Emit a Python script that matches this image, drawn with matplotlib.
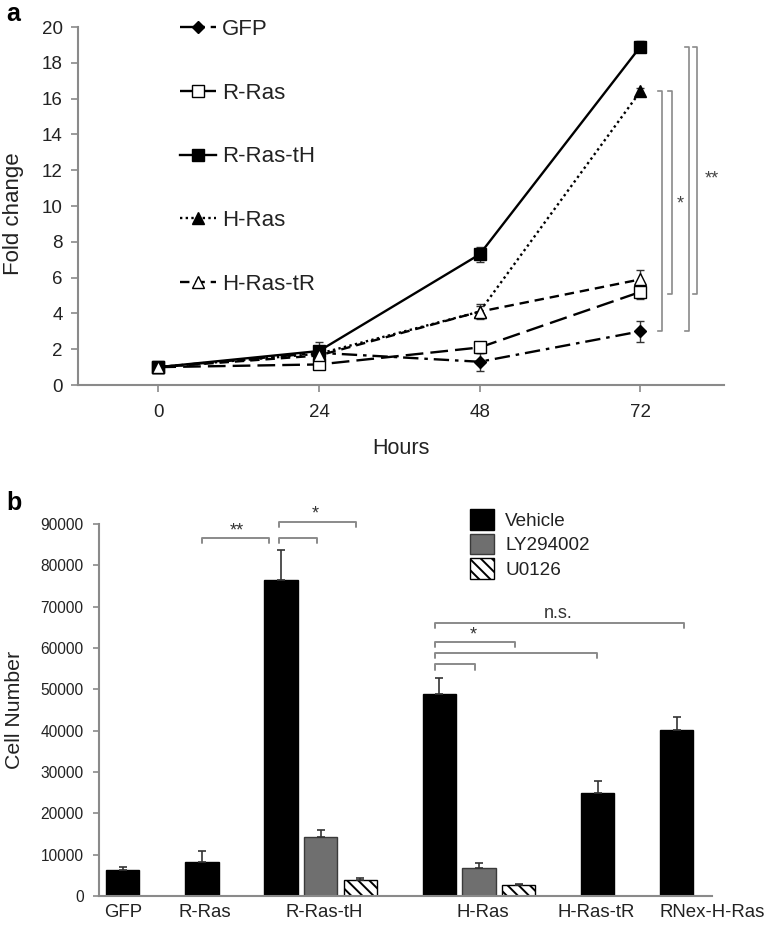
import matplotlib.pyplot as plt
from matplotlib.lines import Line2D
from matplotlib.patches import Patch

plt.rcParams['font.family'] = ['Liberation Sans', 'DejaVu Sans']
plt.rcParams['hatch.linewidth'] = 1.4

# panel a: fold change over time
hours = [0, 24, 48, 72]
series_names = ['GFP', 'R-Ras', 'R-Ras-tH', 'H-Ras', 'H-Ras-tR']
gfp = [1.0, 1.8, 1.3, 3.0]
rras = [1.0, 1.15, 2.1, 5.2]
rras_th = [1.0, 1.9, 7.3, 18.9]
hras = [1.0, 1.75, 4.1, 16.4]
hras_tr = [1.0, 1.65, 4.1, 5.9]
gfp_err = [0.0, 0.3, 0.5, 0.6]
rras_err = [0.0, 0.2, 0.3, 0.4]
rras_th_err = [0.0, 0.5, 0.4, 0.3]
hras_err = [0.0, 0.3, 0.4, 0.2]
hras_tr_err = [0.0, 0.3, 0.3, 0.5]

# panel b: cell numbers
groups = ['GFP', 'R-Ras', 'R-Ras-tH', 'H-Ras', 'H-Ras-tR', 'RNex-H-Ras']
treatments = ['Vehicle', 'LY294002', 'U0126']
vehicle = [6200, 8300, 76500, 48800, 24900, 40200]
vehicle_err = [800, 2500, 7200, 3900, 2900, 3100]
ly294002 = [None, None, 14300, 6800, None, None]
ly294002_err = [None, None, 1600, 1200, None, None]
u0126 = [None, None, 3900, 2700, None, None]
u0126_err = [None, None, 400, 300, None, None]

AX_GRAY = '#8a8a8a'
TXT = '#222222'

fig = plt.figure(figsize=(7.79, 9.26), dpi=100)

# ---------------- panel a ----------------
ax = fig.add_axes([0.1001, 0.5842, 0.8293, 0.3866])
styles = [
    dict(marker='D', ms=6, mfc='black', dashes=(6.5, 2.5, 1.5, 2.5)),
    dict(marker='s', ms=8, mfc='white', dashes=(7.5, 3)),
    dict(marker='s', ms=8, mfc='black', ls='-'),
    dict(marker='^', ms=8, mfc='black', dashes=(1, 1.4)),
    dict(marker='^', ms=8, mfc='white', dashes=(4, 2.5)),
]
values = [gfp, rras, rras_th, hras, hras_tr]
errs = [gfp_err, rras_err, rras_th_err, hras_err, hras_tr_err]
handles = []
for name, vals, err, st in zip(series_names, values, errs, styles):
    ax.errorbar(hours, vals, yerr=err, color='black', ecolor='#333333',
                elinewidth=1, capsize=3, capthick=1, lw=1.7, mec='black',
                mew=1, label=name, **st)
    handles.append(Line2D([], [], color='black', lw=1.7, mec='black', mew=1, **st))

ax.legend(handles, series_names, loc='center left', bbox_to_anchor=(0.158, 0.637),
          frameon=False, fontsize=16, handlelength=1.6, handletextpad=0.3,
          labelspacing=1.92, borderpad=0, borderaxespad=0, labelcolor=TXT)

ax.set_xlim(-12, 84.5)
ax.set_ylim(0, 20)
ax.set_xticks(hours)
ax.set_yticks(range(0, 21, 2))
ax.set_xlabel('Hours', fontsize=15.5, labelpad=12, color=TXT)
ax.set_ylabel('Fold change', fontsize=16, color=TXT)
ax.yaxis.set_label_coords(-0.083, 0.48)
for s in ['top', 'right']:
    ax.spines[s].set_visible(False)
for s in ['left', 'bottom']:
    ax.spines[s].set_color(AX_GRAY)
    ax.spines[s].set_linewidth(1.5)
ax.tick_params(axis='both', direction='out', length=5, width=1.2, color=AX_GRAY,
               labelsize=13.5, pad=6, labelcolor=TXT)
ax.tick_params(axis='x', pad=9)

# significance brackets (panel a)
def vbracket(ax, x, y0, y1, arm=0.6):
    ax.plot([x - arm, x, x, x - arm], [y1, y1, y0, y0], color=AX_GRAY, lw=1.2,
            clip_on=False)

vbracket(ax, 75.2, gfp[3], hras[3])
vbracket(ax, 76.7, rras[3] - 0.1, hras[3])
vbracket(ax, 79.2, gfp[3], rras_th[3])
vbracket(ax, 80.5, rras[3] - 0.1, rras_th[3])
ax.text(78.0, 10.1, '*', ha='center', va='center', fontsize=13, color='#444444')
ax.text(82.7, 11.5, '**', ha='center', va='center', fontsize=13, color='#444444')

fig.text(0.008, 0.985, 'a', fontsize=18, fontweight='bold', va='center')

# ---------------- panel b ----------------
bx = fig.add_axes([0.1271, 0.0324, 0.787, 0.4017])
group_pos = [0, 2, 4, 8, 12, 14]
label_pos = [0.02, 2.07, 5.1, 9.1, 11.95, 14.89]
width = 0.84
bar_styles = [
    dict(facecolor='black', edgecolor='black'),
    dict(facecolor='#6f6f6f', edgecolor='#3a3a3a'),
    dict(facecolor='white', edgecolor='black', hatch='\\\\\\'),
]
for k, (vals, err, st) in enumerate(zip([vehicle, ly294002, u0126],
                                        [vehicle_err, ly294002_err, u0126_err],
                                        bar_styles)):
    xs = [p + k for p, v in zip(group_pos, vals) if v is not None]
    ys = [v for v in vals if v is not None]
    es = [e for e in err if e is not None]
    bx.bar(xs, ys, width=width, linewidth=1, zorder=2, **st)
    bx.errorbar(xs, ys, yerr=[[0] * len(es), es], fmt='none', ecolor='#333333',
                elinewidth=1.2, capsize=3, capthick=1.2, zorder=3)

bx.set_xlim(-0.6, 14.55)
bx.set_ylim(0, 90000)
bx.set_yticks(range(0, 90001, 10000))
bx.set_xticks(label_pos)
bx.set_xticklabels(groups, fontsize=13.4)
bx.set_ylabel('Cell Number', fontsize=15.3, color=TXT)
bx.yaxis.set_label_coords(-0.122, 0.5)
for s in ['top', 'right']:
    bx.spines[s].set_visible(False)
for s in ['left', 'bottom']:
    bx.spines[s].set_color(AX_GRAY)
    bx.spines[s].set_linewidth(1.5)
bx.tick_params(axis='y', direction='out', length=4, width=1.2, color=AX_GRAY,
               labelsize=11.2, pad=7, labelcolor=TXT)
bx.tick_params(axis='x', length=0, pad=6, labelcolor=TXT)

leg_handles = [Patch(label=t, linewidth=1, **st) for t, st in zip(treatments, bar_styles)]
bx.legend(handles=leg_handles, loc='upper left', bbox_to_anchor=(0.605, 1.04),
          frameon=False, fontsize=13.6, handlelength=1.27, handleheight=1.32,
          handletextpad=0.6, labelspacing=0.19, borderpad=0, borderaxespad=0,
          labelcolor=TXT)

def hbracket(ax, x0, x1, y, drop=1300):
    ax.plot([x0, x0, x1, x1], [y - drop, y, y, y - drop], color=AX_GRAY, lw=1.4,
            clip_on=False, solid_capstyle='round', solid_joinstyle='round')

hbracket(bx, 2.0, 3.7, 86600)
hbracket(bx, 3.95, 4.91, 86600)
hbracket(bx, 3.95, 5.9, 90500)
hbracket(bx, 7.9, 14.17, 66100)
hbracket(bx, 7.9, 9.9, 61500)
hbracket(bx, 7.9, 11.98, 58800)
hbracket(bx, 7.9, 8.89, 56100)
bx.text(2.89, 88400, '**', ha='center', va='center', fontsize=13, color='#333333')
bx.text(4.86, 92400, '*', ha='center', va='center', fontsize=13, color='#333333')
bx.text(8.86, 63200, '*', ha='center', va='center', fontsize=13, color='#333333')
bx.text(10.99, 68300, 'n.s.', ha='center', va='center', fontsize=13, color='#333333')

fig.text(0.008, 0.457, 'b', fontsize=18, fontweight='bold', va='center')

fig.savefig('out.png', dpi=100)
